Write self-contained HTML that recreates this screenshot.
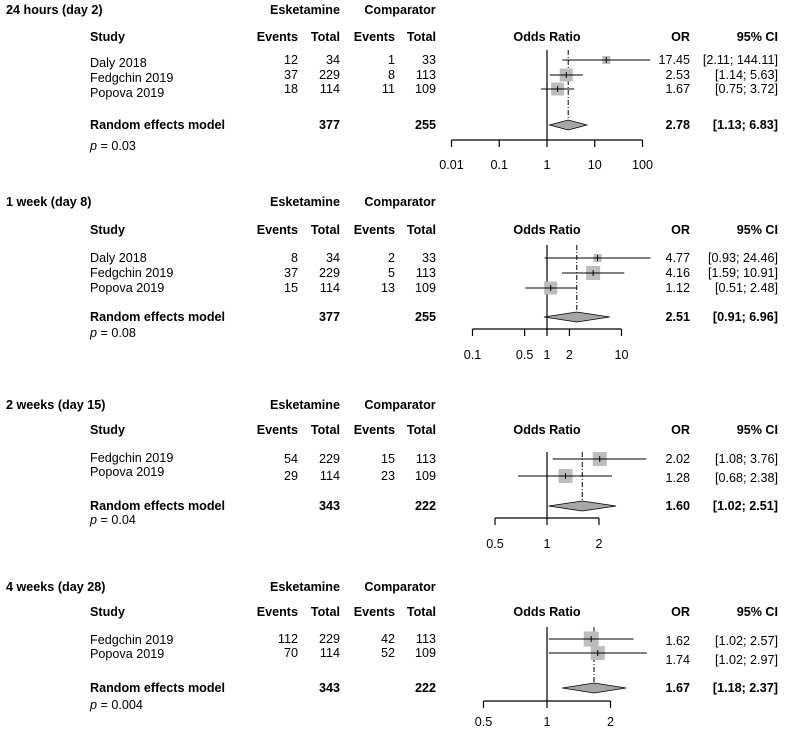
<!DOCTYPE html>
<html><head><meta charset="utf-8"><style>
body{margin:0;background:#fff}
svg{display:block;font-family:"Liberation Sans",Arial,sans-serif;font-size:12.6px}
.b{font-weight:bold}
</style></head><body>
<svg id="chart" width="788" height="730" viewBox="0 0 788 730" xmlns="http://www.w3.org/2000/svg"></svg>
<script>
// ---- Panel 1: 24 hours ----
const p1Studies=["Daly 2018","Fedgchin 2019","Popova 2019"];
const p1EskEvents=[12,37,18];
const p1EskTotal=[34,229,114];
const p1CmpEvents=[1,8,11];
const p1CmpTotal=[33,113,109];
const p1OR=[17.45,2.53,1.67];
const p1Lo=[2.11,1.14,0.75];
const p1Hi=[144.11,5.63,3.72];
const p1Weight=[8,13,13];
const p1Summary=[2.78,1.13,6.83];
const p1Totals=[377,255];
const p1Ticks=["0.01","0.1","1","10","100"];
const p1P="0.03";
// ---- Panel 2: 1 week ----
const p2Studies=["Daly 2018","Fedgchin 2019","Popova 2019"];
const p2EskEvents=[8,37,15];
const p2EskTotal=[34,229,114];
const p2CmpEvents=[2,5,13];
const p2CmpTotal=[33,113,109];
const p2OR=[4.77,4.16,1.12];
const p2Lo=[0.93,1.59,0.51];
const p2Hi=[24.46,10.91,2.48];
const p2Weight=[8,14,13];
const p2Summary=[2.51,0.91,6.96];
const p2Totals=[377,255];
const p2Ticks=["0.1","0.5","1","2","10"];
const p2P="0.08";
// ---- Panel 3: 2 weeks ----
const p3Studies=["Fedgchin 2019","Popova 2019"];
const p3EskEvents=[54,29];
const p3EskTotal=[229,114];
const p3CmpEvents=[15,23];
const p3CmpTotal=[113,109];
const p3OR=[2.02,1.28];
const p3Lo=[1.08,0.68];
const p3Hi=[3.76,2.38];
const p3Weight=[14,14];
const p3Summary=[1.60,1.02,2.51];
const p3Totals=[343,222];
const p3Ticks=["0.5","1","2"];
const p3P="0.04";
// ---- Panel 4: 4 weeks ----
const p4Studies=["Fedgchin 2019","Popova 2019"];
const p4EskEvents=[112,70];
const p4EskTotal=[229,114];
const p4CmpEvents=[42,52];
const p4CmpTotal=[113,109];
const p4OR=[1.62,1.74];
const p4Lo=[1.02,1.02];
const p4Hi=[2.57,2.97];
const p4Weight=[15,14];
const p4Summary=[1.67,1.18,2.37];
const p4Totals=[343,222];
const p4Ticks=["0.5","1","2"];
const p4P="0.004";

const svg=document.getElementById('chart');
const NS="http://www.w3.org/2000/svg";
function mk(tag,attrs,parent){const e=document.createElementNS(NS,tag);for(const k in attrs)e.setAttribute(k,attrs[k]);(parent||svg).appendChild(e);return e;}
function txt(x,y,s,anchor,cls,parent){const t=mk('text',{x:x,y:y,'text-anchor':anchor||'start'},parent);if(cls)t.setAttribute('class',cls);t.textContent=s;return t;}
const f2=v=>v.toFixed(2);

const layouts=[
 {title:"24 hours (day 2)",tb:14,hb:41,rows:[60,75,89],orRows:[64,79,93],nameRows:[67,82,97],sum:125,axis:140,lab:169,pb:150,top:50,pxd:47.75,clip:651,d:{s:p1Studies,ee:p1EskEvents,et:p1EskTotal,ce:p1CmpEvents,ct:p1CmpTotal,or:p1OR,lo:p1Lo,hi:p1Hi,w:p1Weight,sm:p1Summary,tot:p1Totals,ticks:p1Ticks,p:p1P}},
 {title:"1 week (day 8)",tb:206,hb:234,rows:[258,273,288],orRows:[262,277,292],nameRows:[262,277,292],sum:317,axis:329,lab:359,pb:337,top:245,pxd:74.5,clip:651,d:{s:p2Studies,ee:p2EskEvents,et:p2EskTotal,ce:p2CmpEvents,ct:p2CmpTotal,or:p2OR,lo:p2Lo,hi:p2Hi,w:p2Weight,sm:p2Summary,tot:p2Totals,ticks:p2Ticks,p:p2P}},
 {title:"2 weeks (day 15)",tb:409,hb:434,rows:[459,476],orRows:[463,482],nameRows:[462,476],sum:506,axis:518,lab:548,pb:524,top:452,pxd:172.7,clip:651,d:{s:p3Studies,ee:p3EskEvents,et:p3EskTotal,ce:p3CmpEvents,ct:p3CmpTotal,or:p3OR,lo:p3Lo,hi:p3Hi,w:p3Weight,sm:p3Summary,tot:p3Totals,ticks:p3Ticks,p:p3P}},
 {title:"4 weeks (day 28)",tb:591,hb:616,rows:[639,653],orRows:[645,664],nameRows:[644,658],sum:688,axis:701,lab:726,pb:709,top:627,pxd:211,clip:651,d:{s:p4Studies,ee:p4EskEvents,et:p4EskTotal,ce:p4CmpEvents,ct:p4CmpTotal,or:p4OR,lo:p4Lo,hi:p4Hi,w:p4Weight,sm:p4Summary,tot:p4Totals,ticks:p4Ticks,p:p4P}}
];

layouts.forEach((L,pi)=>{
 const d=L.d;
 const g=mk('g',{});
 
 
 const X=v=>547+Math.log10(v)*L.pxd;
 let t;
 t=txt(6,L.tb,L.title,'start','b',g);
 
 
 t=txt(305,L.tb,"Esketamine",'middle','b',g);
 
 
 t=txt(400,L.tb,"Comparator",'middle','b',g);
 
 
 const hdr=[[90,"Study",'start'],[298,"Events",'end'],[340,"Total",'end'],[395,"Events",'end'],[436,"Total",'end'],[547,"Odds Ratio",'middle'],[690,"OR",'end'],[778,"95% CI",'end']];
 hdr.forEach(h=>{t=txt(h[0],L.hb,h[1],h[2],'b',g);
  
  });
 let ln=mk('line',{x1:547,x2:547,y1:L.top,y2:L.axis,stroke:'#000','stroke-width':1.2},g);
 
 
 const sx=X(d.sm[0]);
 ln=mk('line',{x1:sx,x2:sx,y1:L.top,y2:L.sum-5,stroke:'#000','stroke-width':1,'stroke-dasharray':'5,2,1,2'},g);
 
 
 d.s.forEach((name,i)=>{
  const ny=L.nameRows[i], vy=L.rows[i]+4;
  t=txt(90,ny,name,'start',null,g);
  
  
  [[298,d.ee[i]],[340,d.et[i]],[395,d.ce[i]],[436,d.ct[i]]].forEach(c=>{t=txt(c[0],vy,String(c[1]),'end',null,g);
   
   });
  t=txt(690,L.orRows[i],f2(d.or[i]),'end',null,g);
  
  
  t=txt(778,L.orRows[i],"["+f2(d.lo[i])+"; "+f2(d.hi[i])+"]",'end',null,g);
  
  
  const y=L.rows[i], cx=X(d.or[i]), w=d.w[i];
  const sq=mk('rect',{x:cx-w/2,y:y-w/2,width:w,height:w,fill:'#bdbdbd'},g);
  
  
  const ci=mk('line',{x1:Math.max(X(d.lo[i]),440),x2:Math.min(X(d.hi[i]),L.clip),y1:y,y2:y,stroke:'#000','stroke-width':1},g);
  
  
  const tk=mk('line',{x1:cx,x2:cx,y1:y-3,y2:y+3,stroke:'#000','stroke-width':1},g);
  
  
 });
 const syb=L.sum+4;
 t=txt(90,syb,"Random effects model",'start','b',g);
 
 
 t=txt(340,syb,String(d.tot[0]),'end','b',g);
 
 
 t=txt(436,syb,String(d.tot[1]),'end','b',g);
 
 
 t=txt(690,syb,f2(d.sm[0]),'end','b',g);
 
 
 t=txt(778,syb,"["+f2(d.sm[1])+"; "+f2(d.sm[2])+"]",'end','b',g);
 
 
 const dl=X(d.sm[1]),dr=X(d.sm[2]),y=L.sum;
 const dm=mk('polygon',{points:`${dl},${y} ${sx},${y-5} ${dr},${y} ${sx},${y+5}`,fill:'#a6a6a6',stroke:'#000','stroke-width':0.8},g);
 
 
 const pt=mk('text',{x:90,y:L.pb},g);
 
 
 pt.innerHTML='<tspan font-style="italic">p</tspan> = '+d.p;
 const tv=d.ticks.map(Number);
 const ax=mk('line',{x1:X(tv[0]),x2:X(tv[tv.length-1]),y1:L.axis,y2:L.axis,stroke:'#000','stroke-width':1.2},g);
 
 
 d.ticks.forEach(s=>{const x=X(Number(s));
  const tl=mk('line',{x1:x,x2:x,y1:L.axis,y2:L.axis+7,stroke:'#000','stroke-width':1.2},g);
  
  
  const lb=txt(x,L.lab,s,'middle',null,g);
  
  
 });
});
</script>
</body></html>
